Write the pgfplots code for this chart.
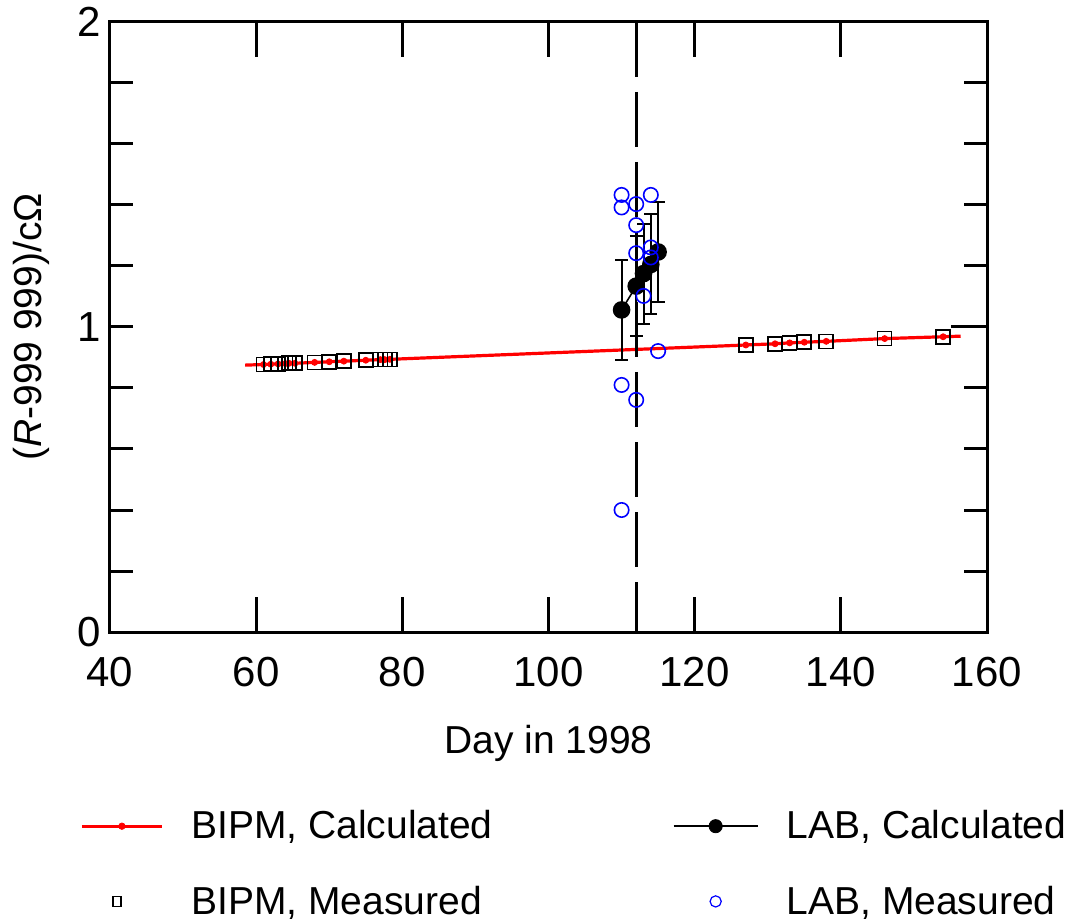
\documentclass[border=0pt]{standalone}
\usepackage{fontspec}
\setmainfont{Liberation Sans}
\usepackage{pgfplots}
\usepackage{pgfplotstable}
\pgfplotsset{compat=1.18}

\pgfplotstableread{
day val
61 0.877
62 0.878
63 0.879
64 0.880
64.5 0.881
65.3 0.881
68 0.884
70 0.886
72 0.888
75 0.891
77 0.893
77.6 0.893
78.3 0.894
127 0.941
131 0.945
133 0.948
135 0.950
138 0.953
146 0.962
154 0.968
}\bipmmeas

\pgfplotstableread{
day val
58.5 0.875
61 0.877
62 0.878
63 0.879
64 0.880
64.5 0.881
65.3 0.881
68 0.884
70 0.886
72 0.888
75 0.891
77 0.893
77.6 0.893
78.3 0.894
127 0.941
131 0.945
133 0.948
135 0.950
138 0.953
146 0.962
154 0.968
156.4 0.970
}\bipmcalc

\pgfplotstableread{
day val err
110 1.056 0.164
112 1.134 0.164
113 1.175 0.164
114 1.205 0.164
115 1.246 0.164
}\labcalc

\pgfplotstableread{
day val
110 1.433
110 1.392
112 1.403
114 1.433
112 1.334
112 1.242
114 1.261
114 1.228
113 1.102
115 0.921
110 0.810
112 0.761
110 0.400
}\labmeas

\begin{document}
\begin{tikzpicture}
\path[use as bounding box] (-55bp,-145.5bp) rectangle (482.5bp,316bp);
\begin{axis}[
  at={(0,0)}, anchor=south west,
  scale only axis, width=438.5bp, height=305bp,
  xmin=40, xmax=160, ymin=0, ymax=2,
  axis line style={line width=1.5bp},
  xtick={40,60,80,100,120,140,160},
  ytick={0,1,2},
  minor ytick={0.2,0.4,0.6,0.8,1,1.2,1.4,1.6,1.8},
  tick align=inside,
  major tick length=17.5bp,
  minor tick length=11.5bp,
  tick style={line width=1.5bp, black},
  major y tick style={draw=none},
  tick label style={font=\fontsize{21bp}{21bp}\selectfont},
  /pgf/number format/assume math mode=true,
  xticklabel style={yshift=-9bp},
  yticklabel style={xshift=-1bp},
  label style={font=\fontsize{19.5bp}{19.5bp}\selectfont},
  xlabel={Day in 1998},
  xlabel style={at={(axis description cs:0.5,-0.182)}, anchor=center},
  ylabel={(\textit{R}-999 999)/cΩ},
  ylabel style={at={(axis description cs:-0.0895,0.5)}, anchor=center},
  legend columns=2,
  legend cell align=left,
  legend style={draw=none, fill=none, inner sep=0pt,
    at={(axis description cs:-0.0342,-0.38)}, anchor=west,
    font=\fontsize{19.5bp}{19.5bp}\selectfont,
    row sep=18bp,
    /tikz/every odd column/.append style={column sep=12bp},
    /tikz/every even column/.append style={column sep=88bp}},
]
% BIPM calculated line
\addplot[red, line width=1.6bp, no marks, forget plot] table[x=day,y=val] {\bipmcalc};
\addplot[red, only marks, mark=*, mark size=1.5bp, forget plot] table[x=day,y=val] {\bipmmeas};
% BIPM measured squares
\addplot[black, only marks, mark=square, mark size=3.5bp, mark options={line width=0.8bp, fill=none}, forget plot] table[x=day,y=val] {\bipmmeas};
% dashed vertical line at day 112
\addplot[black, line width=1.5bp, dash pattern=on 27.5bp off 7.5bp, forget plot] coordinates {(112,2) (112,0)};
% LAB calculated with error bars
\addplot[black, line width=0.8bp, mark=*, mark size=4bp, forget plot,
  error bars/.cd, y dir=both, y explicit,
  error bar style={line width=1bp, black}, error mark options={rotate=90, mark size=3.2bp, line width=1bp}]
  table[x=day, y=val, y error=err] {\labcalc};
% LAB measured circles
\addplot[blue, only marks, mark=o, mark size=3.6bp, mark options={line width=0.8bp, fill=white}, forget plot] table[x=day,y=val] {\labmeas};
% extra right tick at 1
\draw[line width=1.5bp, black] (rel axis cs:1,0.5) -- ++(-18bp,0pt);
% legend
\addlegendimage{legend image code/.code={\draw[red,line width=1.5bp] (0bp,0bp) -- (40bp,0bp); \fill[red] (20bp,0bp) circle (1.6bp);}}
\addlegendentry{BIPM, Calculated}
\addlegendimage{legend image code/.code={\draw[black,line width=1bp] (0bp,0bp) -- (42bp,0bp); \fill[black] (21bp,0bp) circle (3.3bp);}}
\addlegendentry{LAB, Calculated}
\addlegendimage{legend image code/.code={\path[draw=none] (0bp,0bp) -- (40bp,0bp); \draw[black,line width=0.6bp] (15.5bp,-2.6bp) rectangle (19.5bp,2.6bp);}}
\addlegendentry{BIPM, Measured}
\addlegendimage{legend image code/.code={\path[draw=none] (0bp,0bp) -- (42bp,0bp); \draw[blue,line width=0.6bp] (21bp,0bp) circle (2.8bp);}}
\addlegendentry{LAB, Measured}
\end{axis}
\end{tikzpicture}
\end{document}
